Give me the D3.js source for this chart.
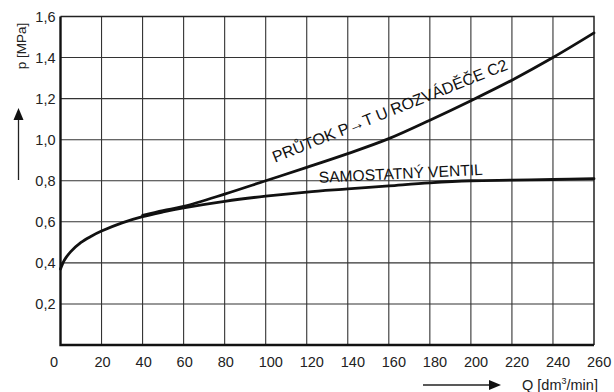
<!DOCTYPE html>
<html>
<head>
<meta charset="utf-8">
<script src="https://cdn.jsdelivr.net/npm/d3@7"></script>
<style>
  body { margin: 0; background: #fff; }
  svg { display: block; font-family: 'Liberation Sans', Arial, sans-serif; }
</style>
</head>
<body>
<svg class="line-chart"></svg>
<script>
// flow Q [dm3/min] vs pressure p [MPa]
const xTicks = [0, 20, 40, 60, 80, 100, 120, 140, 160, 180, 200, 220, 240, 260];
const yTicks = [0.2, 0.4, 0.6, 0.8, 1.0, 1.2, 1.4, 1.6];

const valveQ = [0, 2, 5, 10, 15, 20, 30, 40, 50, 60, 80, 100, 120, 140, 160, 180, 200, 220, 240, 260];
const valveP = [0.37, 0.415, 0.455, 0.50, 0.53, 0.555, 0.595, 0.625, 0.648, 0.668, 0.70, 0.725, 0.745, 0.76, 0.775, 0.79, 0.80, 0.803, 0.806, 0.81];

const flowQ = [40, 50, 60, 80, 100, 120, 140, 160, 180, 200, 220, 240, 260];
const flowP = [0.632, 0.655, 0.675, 0.735, 0.80, 0.865, 0.932, 1.005, 1.095, 1.19, 1.29, 1.40, 1.52];

const labelFlow = 'PRŮTOK P→T U ROZVÁDĚČE C2';
const labelValve = 'SAMOSTATNÝ VENTIL';

const width = 614;
const height = 392;
const margin = { top: 16.5, right: 20, bottom: 47, left: 60.5 };

const fmt = (d) => d3.format('.1f')(d).replace('.', ',');

const svg = d3.select('.line-chart')
  .attr('width', width)
  .attr('height', height);

const x = d3.scaleLinear()
  .domain([0, 260])
  .range([margin.left, width - margin.right]);

const y = d3.scaleLinear()
  .domain([0, 1.6])
  .range([height - margin.bottom, margin.top]);

// grid
svg.append('g')
  .attr('stroke', '#333')
  .attr('stroke-width', 1.1)
  .selectAll('line')
  .data(xTicks.slice(1, -1))
  .join('line')
  .attr('x1', (d) => x(d))
  .attr('x2', (d) => x(d))
  .attr('y1', y(0))
  .attr('y2', y(1.6));

svg.append('g')
  .attr('stroke', '#333')
  .attr('stroke-width', 1.1)
  .selectAll('line')
  .data(yTicks.slice(0, -1))
  .join('line')
  .attr('x1', x(0))
  .attr('x2', x(260))
  .attr('y1', (d) => y(d))
  .attr('y2', (d) => y(d));

// frame: top/right thinner, left/bottom heavy
svg.append('path')
  .attr('fill', 'none')
  .attr('stroke', '#222')
  .attr('stroke-width', 1.5)
  .attr('d', `M${x(0)},${y(1.6)}H${x(260)}V${y(0)}`);

svg.append('path')
  .attr('fill', 'none')
  .attr('stroke', '#111')
  .attr('stroke-width', 2.4)
  .attr('d', `M${x(0)},${y(1.6)}V${y(0)}H${x(260)}`);

// tick labels (the original sets them start-aligned a bit left of the grid line)
svg.append('g')
  .attr('font-size', 14.5)
  .attr('fill', '#222')
  .selectAll('text')
  .data(xTicks)
  .join('text')
  .attr('x', (d) => (d === 0 ? x(d) - 10.5 : x(d) - 7))
  .attr('y', y(0) + 22)
  .text((d) => d);

svg.append('g')
  .attr('font-size', 14.5)
  .attr('fill', '#222')
  .attr('text-anchor', 'end')
  .selectAll('text')
  .data(yTicks)
  .join('text')
  .attr('x', x(0) - 5)
  .attr('y', (d) => y(d) + 5)
  .text(fmt);

// curves
const line = d3.line()
  .x((d) => x(d[0]))
  .y((d) => y(d[1]))
  .curve(d3.curveCatmullRom.alpha(0.5));

svg.append('path')
  .datum(d3.zip(valveQ, valveP))
  .attr('fill', 'none')
  .attr('stroke', '#111')
  .attr('stroke-width', 2.8)
  .attr('stroke-linecap', 'round')
  .attr('d', line);

svg.append('path')
  .datum(d3.zip(flowQ, flowP))
  .attr('fill', 'none')
  .attr('stroke', '#111')
  .attr('stroke-width', 2.8)
  .attr('stroke-linecap', 'round')
  .attr('d', line);

// curve labels
svg.append('text')
  .attr('font-size', 16)
  .attr('fill', '#111')
  .attr('transform', `translate(${x(104.5)},${y(0.888)}) rotate(-21.8)`)
  .text(labelFlow);

svg.append('text')
  .attr('font-size', 15.6)
  .attr('fill', '#111')
  .attr('transform', `translate(${x(126)},${y(0.79)}) rotate(-2.8)`)
  .text(labelValve);

// axis titles with arrows
svg.append('text')
  .attr('font-size', 13.5)
  .attr('fill', '#222')
  .attr('text-anchor', 'middle')
  .attr('transform', 'translate(26,46) rotate(-90)')
  .text('p [MPa]');

svg.append('line')
  .attr('x1', 18.5).attr('x2', 18.5)
  .attr('y1', 180).attr('y2', 116)
  .attr('stroke', '#222')
  .attr('stroke-width', 1.3);

svg.append('path')
  .attr('fill', '#111')
  .attr('d', 'M18.5,108L13.5,120L23.5,120Z');

svg.append('line')
  .attr('x1', 423).attr('x2', 492)
  .attr('y1', 385).attr('y2', 385)
  .attr('stroke', '#222')
  .attr('stroke-width', 1.3);

svg.append('path')
  .attr('fill', '#111')
  .attr('d', 'M501,385L489,380L489,390Z');

const qLabel = svg.append('text')
  .attr('font-size', 14.5)
  .attr('fill', '#222')
  .attr('x', 522)
  .attr('y', 390);
qLabel.append('tspan').text('Q [dm');
qLabel.append('tspan').attr('font-size', 9).attr('dy', -6).text('3');
qLabel.append('tspan').attr('dy', 6).text('/min]');
</script>
</body>
</html>
